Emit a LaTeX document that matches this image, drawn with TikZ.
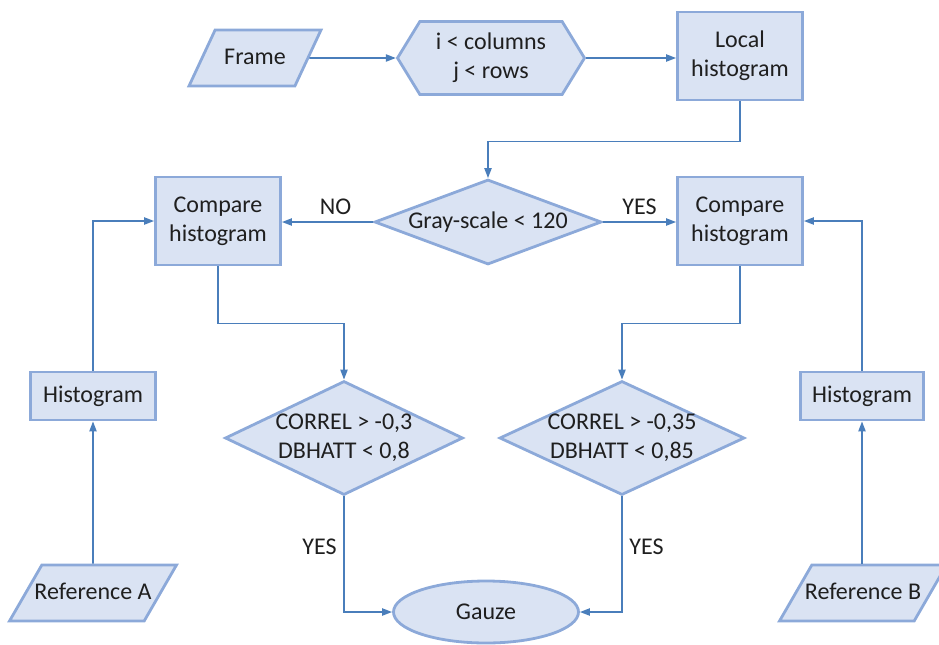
\documentclass[tikz,border=0pt]{standalone}
\usepackage{fontspec}
\setmainfont{Carlito}
\usetikzlibrary{shapes.geometric, shapes.symbols, arrows.meta}
\definecolor{FlowFill}{HTML}{DAE3F3}
\definecolor{FlowEdge}{HTML}{8CA9D9}
\definecolor{FlowLine}{HTML}{4A7EBB}
\definecolor{FlowText}{HTML}{1F1F1F}

\begin{document}
\begin{tikzpicture}[x=0.5pt, y=-0.5pt, >={Triangle[length=5pt, width=3.6pt]},
        shape base/.style={draw=FlowEdge, line width=1.4pt, fill=FlowFill, text=FlowText, align=center,
            font=\fontsize{12}{14.5}\selectfont},
        box/.style={shape base, rectangle, minimum width=62.5pt, minimum height=44pt},
        io/.style={shape base, trapezium, trapezium left angle=65, trapezium right angle=115,
            trapezium stretches body, minimum width=66pt, text height=8.5pt, text depth=2.5pt,
            inner xsep=0pt, inner ysep=8.5pt},
        refbox/.style={io, minimum width=83.5pt, trapezium left angle=60, trapezium right angle=120,
            inner xsep=-8pt},
        loopbox/.style={shape base, signal, signal to=west and east, signal pointer angle=117,
            minimum width=93.5pt, minimum height=36.5pt, inner sep=0pt},
        decision/.style={shape base, diamond, aspect=2.5, inner sep=-6pt},
        terminal/.style={shape base, ellipse, minimum width=92.5pt, minimum height=31pt},
        arrow/.style={->, line width=0.8pt, FlowLine},
        tag/.style={text=FlowText, font=\fontsize{12}{14.5}\selectfont}]

    \useasboundingbox (0,0) rectangle (939,644);

    % top row
    \node[io] (frame) at (255,58) {Frame};
    \node[loopbox] (loop) at (491,58) {i < columns\\ j < rows};
    \node[box] (local) at (740,56) {Local\\ histogram};

    % comparison row
    \node[decision, minimum width=113.5pt, minimum height=42.5pt] (gray) at (488,222) {Gray-scale < 120};
    \node[box] (cmpL) at (218,221) {Compare\\ histogram};
    \node[box] (cmpR) at (740,221) {Compare\\ histogram};

    % reference inputs
    \node[box, minimum height=24pt] (histL) at (93,396) {Histogram};
    \node[box, minimum width=61.5pt, minimum height=24pt] (histR) at (862,396) {Histogram};
    \node[refbox] (refA) at (93,593) {Reference A};
    \node[refbox] (refB) at (863,593) {Reference B};

    % thresholds
    \node[decision, minimum width=119pt, minimum height=57pt] (corrA) at (344,438) {CORREL > -0,3\\ DBHATT < 0,8};
    \node[decision, minimum width=122.5pt, minimum height=57pt] (corrB) at (622,438) {CORREL > -0,35\\ DBHATT < 0,85};
    \node[terminal] (gauze) at (486,612) {Gauze};

    \draw[arrow] (frame) -- (loop);
    \draw[arrow] (loop.east) -- (local.west |- loop.east);
    \draw[arrow] (local.south) -- ++(0,40) -| (gray.north);
    \draw[arrow] (gray.west) -- node[tag, above, xshift=4pt] {NO} (cmpL.east |- gray.west);
    \draw[arrow] (gray.east) -- node[tag, above] {YES} (cmpR.west |- gray.east);

    \draw[arrow] (refA) -- (histL);
    \draw[arrow] (histL.north) |- (cmpL.west);
    \draw[arrow] (refB.north -| histR) -- (histR);
    \draw[arrow] (histR.north) |- (cmpR.east);

    \draw[arrow] (cmpL.south) -- ++(0,57) -| (corrA.north);
    \draw[arrow] (cmpR.south) -- ++(0,57) -| (corrB.north);
    \draw[arrow] (corrA.south) |- node[tag, pos=0.22, left] {YES} (gauze.west);
    \draw[arrow] (corrB.south) |- node[tag, pos=0.22, right] {YES} (gauze.east);
\end{tikzpicture}
\end{document}
